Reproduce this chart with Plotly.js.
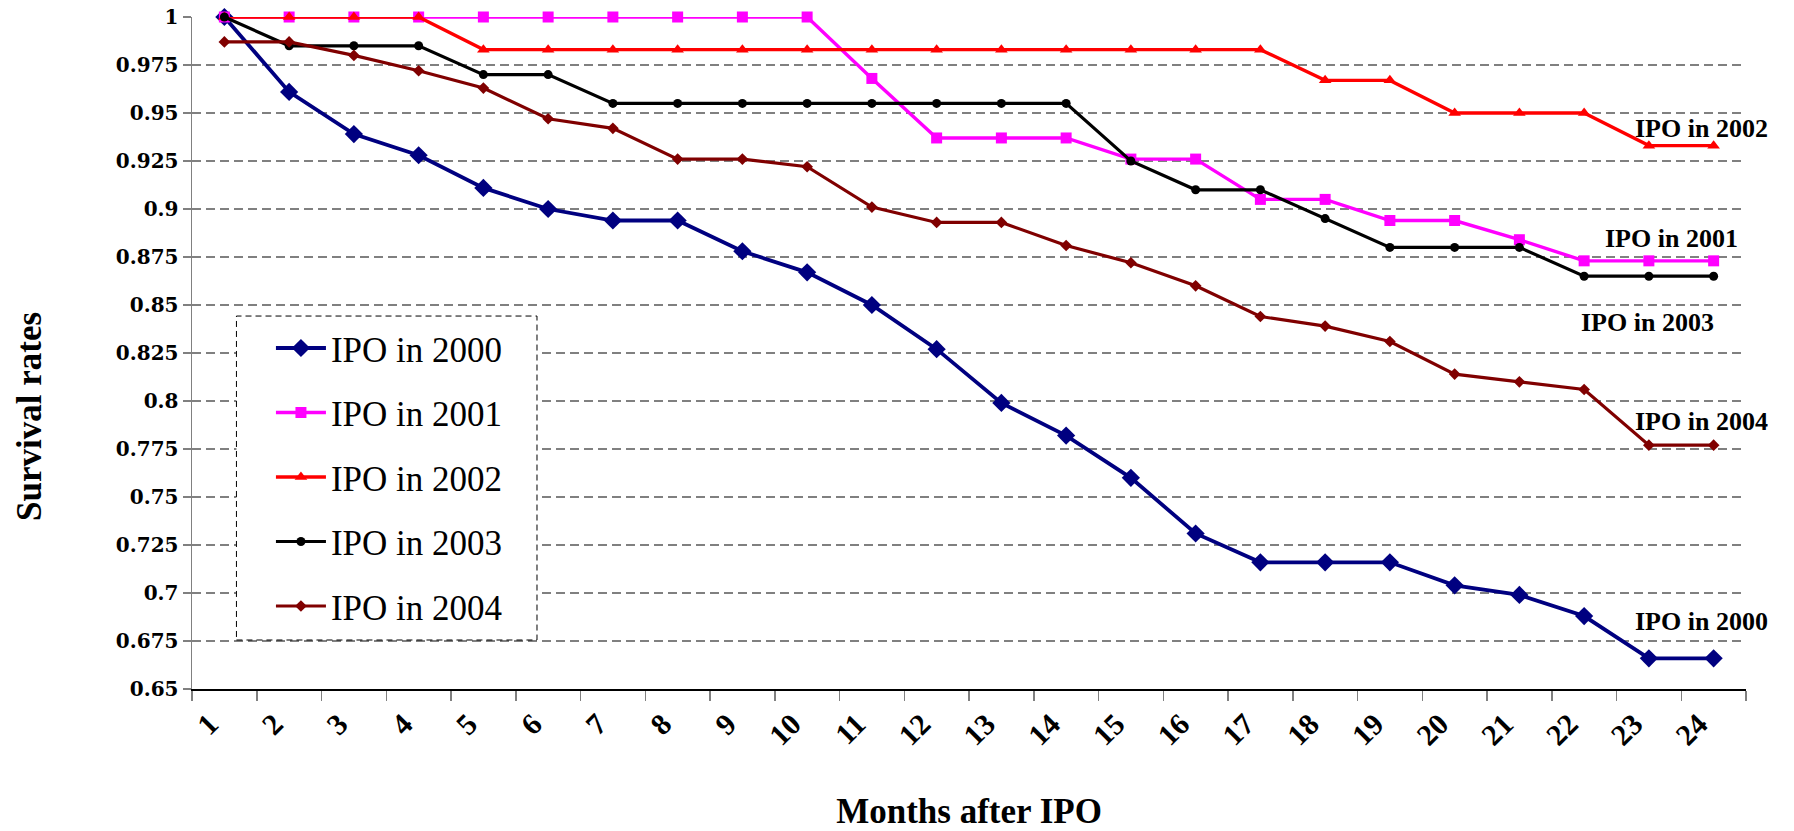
<!DOCTYPE html>
<html>
<head>
<meta charset="utf-8">
<script src="https://cdn.plot.ly/plotly-3.0.1.min.js"></script>
<style>
html,body{margin:0;padding:0;background:#ffffff;}
#chart{width:1794px;height:831px;}
</style>
</head>
<body>
<div id="chart"></div>
<script>
// ---- data ----
const months = ['1','2','3','4','5','6','7','8','9','10','11','12','13','14','15','16','17','18','19','20','21','22','23','24'];

const ipo2000 = [1.000, 0.961, 0.939, 0.928, 0.911, 0.900, 0.894, 0.894, 0.878, 0.867, 0.850, 0.827, 0.799, 0.782, 0.760, 0.731, 0.716, 0.716, 0.716, 0.704, 0.699, 0.688, 0.666, 0.666];
const ipo2001 = [1.000, 1.000, 1.000, 1.000, 1.000, 1.000, 1.000, 1.000, 1.000, 1.000, 0.968, 0.937, 0.937, 0.937, 0.926, 0.926, 0.905, 0.905, 0.894, 0.894, 0.884, 0.873, 0.873, 0.873];
const ipo2002 = [1.000, 1.000, 1.000, 1.000, 0.983, 0.983, 0.983, 0.983, 0.983, 0.983, 0.983, 0.983, 0.983, 0.983, 0.983, 0.983, 0.983, 0.967, 0.967, 0.950, 0.950, 0.950, 0.933, 0.933];
const ipo2003 = [1.000, 0.985, 0.985, 0.985, 0.970, 0.970, 0.955, 0.955, 0.955, 0.955, 0.955, 0.955, 0.955, 0.955, 0.925, 0.910, 0.910, 0.895, 0.880, 0.880, 0.880, 0.865, 0.865, 0.865];
const ipo2004 = [0.987, 0.987, 0.980, 0.972, 0.963, 0.947, 0.942, 0.926, 0.926, 0.922, 0.901, 0.893, 0.893, 0.881, 0.872, 0.860, 0.844, 0.839, 0.831, 0.814, 0.810, 0.806, 0.777, 0.777];

const seriesNames = ['IPO in 2000', 'IPO in 2001', 'IPO in 2002', 'IPO in 2003', 'IPO in 2004'];

const yTickVals = [0.65, 0.675, 0.7, 0.725, 0.75, 0.775, 0.8, 0.825, 0.85, 0.875, 0.9, 0.925, 0.95, 0.975, 1];
const yTickText = ['0.65', '0.675', '0.7', '0.725', '0.75', '0.775', '0.8', '0.825', '0.85', '0.875', '0.9', '0.925', '0.95', '0.975', '1'];

const xTitle = 'Months after IPO';
const yTitle = 'Survival rates';

// ---- styling ----
const SERIF = '"Liberation Serif", "Times New Roman", Times, serif';
const WIDE_SERIF = '"DejaVu Serif", "Liberation Serif", serif';

const styles = [
  {color: '#000080', symbol: 'diamond', size: 14, width: 3.8},
  {color: '#FF00FF', symbol: 'square', size: 11, width: 3.4},
  {color: '#FF0000', symbol: 'triangle-up', size: 11, width: 3.4},
  {color: '#000000', symbol: 'circle', size: 9, width: 3.2},
  {color: '#800000', symbol: 'diamond', size: 9, width: 3.2}
];

const allSeries = [ipo2000, ipo2001, ipo2002, ipo2003, ipo2004];

const traces = allSeries.map((vals, i) => ({
  x: months,
  y: vals,
  type: 'scatter',
  mode: 'lines+markers',
  name: seriesNames[i],
  legendgroup: 'g' + i,
  line: {color: styles[i].color, width: styles[i].width},
  marker: {symbol: styles[i].symbol, size: styles[i].size, color: styles[i].color,
           line: {width: 0}},
  cliponaxis: false
}));

// end-of-line labels (paper positions)
const labelPos = [
  {x: 0.9715, y: 0.100},
  {x: 0.9522, y: 0.671},
  {x: 0.9715, y: 0.834},
  {x: 0.9366, y: 0.545},
  {x: 0.9715, y: 0.398}
];

const annotations = seriesNames.map((t, i) => ({
  text: t,
  xref: 'paper', yref: 'paper',
  x: labelPos[i].x, y: labelPos[i].y,
  xanchor: 'center', yanchor: 'middle',
  showarrow: false,
  font: {family: SERIF, size: 26, color: '#000', weight: 'bold'}
}));

annotations.push({
  text: yTitle,
  xref: 'paper', yref: 'paper',
  x: -0.1042, y: 0.405,
  xanchor: 'center', yanchor: 'middle',
  textangle: -90,
  showarrow: false,
  font: {family: SERIF, size: 35, color: '#000', weight: 'bold'}
});

const layout = {
  width: 1794,
  height: 831,
  margin: {l: 192, r: 48, t: 17, b: 142, pad: 0},
  paper_bgcolor: '#ffffff',
  plot_bgcolor: '#ffffff',
  font: {family: SERIF, color: '#000000'},
  showlegend: true,
  legend: {
    x: 0.0508, y: 0.551, xanchor: 'left', yanchor: 'top',
    bgcolor: 'rgba(0,0,0,0)', borderwidth: 0,
    font: {family: SERIF, size: 35, color: '#000'},
    tracegroupgap: 16,
    itemwidth: 50,
    traceorder: 'grouped'
  },
  xaxis: {
    type: 'category',
    range: [-0.5, 23.5],
    tickson: 'boundaries',
    ticks: 'outside', ticklen: 10, tickwidth: 1.5, tickcolor: '#808080',
    showline: true, linecolor: '#000000', linewidth: 1.5,
    showgrid: false, zeroline: false,
    tickangle: -45,
    ticklabelstandoff: 4,
    ticklabelshift: -15,
    tickfont: {family: SERIF, size: 30, color: '#000', weight: 'bold'},
    title: {text: xTitle, font: {family: SERIF, size: 35, color: '#000', weight: 'bold'}, standoff: 52},
    fixedrange: true
  },
  yaxis: {
    range: [0.65, 1],
    tickvals: yTickVals,
    ticktext: yTickText,
    ticks: 'outside', ticklen: 8, tickwidth: 1.5, tickcolor: '#808080',
    showline: true, linecolor: '#808080', linewidth: 1.5,
    showgrid: true, gridcolor: '#808080', gridwidth: 1.3, griddash: '9px,5px',
    zeroline: false,
    tickfont: {family: WIDE_SERIF, size: 20, color: '#000', weight: 'bold'},
    fixedrange: true
  },
  annotations: annotations,
  shapes: [{
    type: 'rect', xref: 'paper', yref: 'paper',
    x0: 0.0286, x1: 0.222, y0: 0.0729, y1: 0.555,
    layer: 'above',
    fillcolor: '#ffffff',
    line: {color: '#000000', width: 1, dash: '6px,4px'}
  }]
};

Plotly.newPlot('chart', traces, layout, {displayModeBar: false, staticPlot: true});
</script>
</body>
</html>
